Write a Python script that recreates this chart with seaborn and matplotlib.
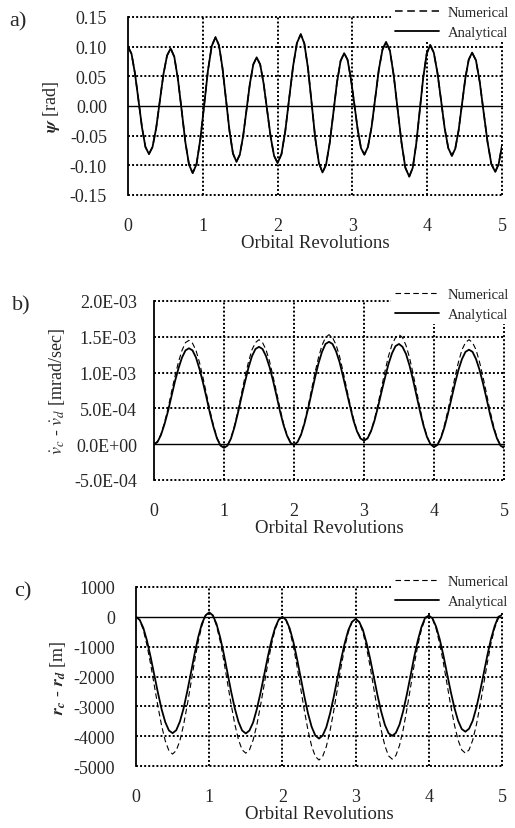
import numpy as np
import matplotlib
matplotlib.use("Agg")
import matplotlib.pyplot as plt
import seaborn as sns

# ---- data ----
# a) attitude angle psi [rad]; numerical and analytical curves coincide
rev_a = [0.00,
         0.047, 0.093, 0.14, 0.187, 0.233, 0.28,
         0.328, 0.377, 0.425, 0.473, 0.522, 0.57,
         0.619, 0.668, 0.718, 0.767, 0.816, 0.865,
         0.916, 0.967, 1.018, 1.068, 1.119, 1.17,
         1.217, 1.263, 1.31, 1.357, 1.403, 1.45,
         1.495, 1.54, 1.585, 1.63, 1.675, 1.72,
         1.767, 1.813, 1.86, 1.907, 1.953, 2.00,
         2.052, 2.103, 2.155, 2.207, 2.258, 2.31,
         2.358, 2.407, 2.455, 2.503, 2.552, 2.60,
         2.648, 2.697, 2.745, 2.793, 2.842, 2.89,
         2.935, 2.98, 3.025, 3.07, 3.115, 3.16,
         3.208, 3.257, 3.305, 3.353, 3.402, 3.45,
         3.502, 3.553, 3.605, 3.657, 3.708, 3.76,
         3.807, 3.853, 3.90, 3.947, 3.993, 4.04,
         4.088, 4.137, 4.185, 4.233, 4.282, 4.33,
         4.375, 4.42, 4.465, 4.51, 4.555, 4.60,
         4.652, 4.703, 4.755, 4.807, 4.858, 4.91,
         4.955, 5.00]
psi_num = [0.100,
           0.088, 0.055, 0.010, -0.036, -0.069, -0.081,
           -0.069, -0.037, 0.008, 0.053, 0.085, 0.097,
           0.083, 0.045, -0.008, -0.061, -0.099, -0.113,
           -0.098, -0.056, 0.001, 0.059, 0.101, 0.116,
           0.102, 0.064, 0.011, -0.042, -0.080, -0.094,
           -0.082, -0.050, -0.006, 0.038, 0.070, 0.082,
           0.070, 0.038, -0.007, -0.052, -0.084, -0.096,
           -0.081, -0.042, 0.013, 0.067, 0.106, 0.121,
           0.105, 0.063, 0.005, -0.054, -0.096, -0.112,
           -0.099, -0.062, -0.012, 0.039, 0.076, 0.089,
           0.078, 0.046, 0.004, -0.039, -0.071, -0.082,
           -0.069, -0.035, 0.013, 0.061, 0.095, 0.108,
           0.093, 0.051, -0.006, -0.062, -0.104, -0.119,
           -0.104, -0.064, -0.008, 0.048, 0.088, 0.103,
           0.090, 0.056, 0.010, -0.037, -0.071, -0.084,
           -0.072, -0.041, 0.003, 0.047, 0.078, 0.090,
           0.077, 0.040, -0.011, -0.061, -0.098, -0.111,
           -0.098, -0.067]
psi_ana = list(psi_num)

# b) and c) sampled every 0.05 orbital revolution
rev_bc = [i / 20 for i in range(101)]

# b) rate difference, in units of 1E-03 mrad/sec
vdot_num = [0.00,
            0.04, 0.14, 0.30, 0.50, 0.73, 0.95, 1.15, 1.31, 1.42, 1.45,
            1.41, 1.31, 1.14, 0.93, 0.70, 0.47, 0.26, 0.09, -0.01, -0.05,
            -0.01, 0.09, 0.26, 0.47, 0.71, 0.94, 1.15, 1.32, 1.42, 1.46,
            1.42, 1.32, 1.16, 0.95, 0.73, 0.50, 0.29, 0.13, 0.03, -0.01,
            0.03, 0.14, 0.31, 0.52, 0.76, 1.00, 1.21, 1.38, 1.49, 1.53,
            1.49, 1.39, 1.23, 1.02, 0.79, 0.56, 0.36, 0.19, 0.09, 0.05,
            0.09, 0.19, 0.35, 0.56, 0.79, 1.02, 1.23, 1.39, 1.49, 1.53,
            1.49, 1.38, 1.21, 0.99, 0.75, 0.50, 0.28, 0.11, 0.00, -0.04,
            0.00, 0.10, 0.27, 0.48, 0.71, 0.94, 1.15, 1.32, 1.42, 1.46,
            1.42, 1.32, 1.15, 0.94, 0.71, 0.47, 0.26, 0.09, -0.01, -0.05]
vdot_ana = [0.00,
            0.03, 0.13, 0.28, 0.46, 0.67, 0.88, 1.06, 1.21, 1.31, 1.34,
            1.31, 1.21, 1.05, 0.86, 0.65, 0.43, 0.24, 0.08, -0.02, -0.05,
            -0.02, 0.08, 0.24, 0.44, 0.66, 0.87, 1.07, 1.23, 1.33, 1.36,
            1.33, 1.23, 1.08, 0.89, 0.68, 0.46, 0.27, 0.12, 0.02, -0.01,
            0.03, 0.13, 0.29, 0.49, 0.71, 0.93, 1.13, 1.29, 1.40, 1.43,
            1.40, 1.30, 1.15, 0.95, 0.74, 0.53, 0.33, 0.18, 0.08, 0.05,
            0.08, 0.18, 0.33, 0.52, 0.73, 0.93, 1.12, 1.27, 1.37, 1.40,
            1.36, 1.26, 1.10, 0.90, 0.68, 0.46, 0.26, 0.10, 0.00, -0.04,
            -0.01, 0.09, 0.24, 0.43, 0.64, 0.85, 1.04, 1.19, 1.29, 1.32,
            1.29, 1.19, 1.04, 0.85, 0.64, 0.42, 0.23, 0.08, -0.02, -0.05]

# c) radial difference [m]
r_num = [0,
         -110, -440, -950, -1590, -2300, -3010, -3650, -4160, -4490, -4600,
         -4480, -4150, -3620, -2960, -2230, -1490, -830, -300, 40, 150,
         40, -300, -820, -1480, -2210, -2940, -3600, -4120, -4460, -4570,
         -4460, -4130, -3630, -2990, -2290, -1580, -940, -430, -110, 0,
         -120, -460, -990, -1660, -2400, -3140, -3810, -4340, -4680, -4800,
         -4680, -4350, -3830, -3170, -2440, -1700, -1040, -520, -180, -70,
         -180, -520, -1040, -1690, -2420, -3150, -3800, -4320, -4660, -4770,
         -4650, -4310, -3780, -3110, -2370, -1620, -950, -420, -70, 40,
         -70, -400, -910, -1550, -2270, -2980, -3620, -4130, -4460, -4570,
         -4460, -4130, -3620, -2970, -2260, -1540, -890, -380, -50, 60]
r_ana = [0,
         -100, -370, -800, -1350, -1950, -2550, -3100, -3530, -3810, -3900,
         -3800, -3510, -3070, -2500, -1880, -1250, -680, -230, 50, 150,
         50, -240, -690, -1250, -1880, -2510, -3070, -3520, -3810, -3910,
         -3810, -3540, -3100, -2560, -1960, -1350, -800, -370, -90, 0,
         -100, -390, -840, -1410, -2040, -2670, -3240, -3690, -3980, -4080,
         -3980, -3700, -3250, -2700, -2080, -1450, -900, -450, -170, -70,
         -170, -440, -880, -1420, -2030, -2640, -3180, -3620, -3900, -3990,
         -3890, -3610, -3160, -2600, -1980, -1350, -790, -340, -30, 40,
         -50, -330, -760, -1300, -1910, -2510, -3050, -3480, -3760, -3850,
         -3750, -3480, -3040, -2500, -1900, -1290, -740, -310, 0, 60]

xticks = [0, 1, 2, 3, 4, 5]
yticks_a = [0.15, 0.10, 0.05, 0.00, -0.05, -0.10, -0.15]
ylabels_a = ["0.15", "0.10", "0.05", "0.00", "-0.05", "-0.10", "-0.15"]
yticks_b = [2.0, 1.5, 1.0, 0.5, 0.0, -0.5]
ylabels_b = ["2.0E-03", "1.5E-03", "1.0E-03", "5.0E-04", "0.0E+00", "-5.0E-04"]
yticks_c = [1000, 0, -1000, -2000, -3000, -4000, -5000]
ylabels_c = ["1000", "0", "-1000", "-2000", "-3000", "-4000", "-5000"]

sns.set_style("white")
plt.rcParams["font.family"] = ["Liberation Serif", "DejaVu Serif"]
plt.rcParams["mathtext.fontset"] = "stix"
plt.rcParams["axes.unicode_minus"] = False

W, H = 515, 829
fig = plt.figure(figsize=(W / 100, H / 100), dpi=100)


def panel(box, x, y_num, y_ana, yticks, ylabels, ylabel, ylab_x, tag, tag_xy, leg_top, num_lw):
    left, top, right, bottom = box
    ax = fig.add_axes([left / W, 1 - bottom / H, (right - left) / W, (bottom - top) / H])
    sns.lineplot(x=x, y=y_ana, ax=ax, color="black", lw=1.3, label="Analytical", zorder=3)
    sns.lineplot(x=x, y=y_num, ax=ax, color="black", lw=num_lw,
                 linestyle=(0, (5, 3)), label="Numerical", zorder=4)
    ax.set_xlim(0, 5)
    ax.set_ylim(min(yticks), max(yticks))

    # Excel-like grid: dotted lines, solid zero line
    for yv in yticks:
        if yv == 0:
            ax.axhline(yv, color="black", lw=1.0, clip_on=False, zorder=2)
        else:
            ax.axhline(yv, color="black", lw=1.4, ls=(0, (1, 1.1)), clip_on=False, zorder=1)
    for xv in xticks[1:]:
        ax.axvline(xv, color="black", lw=1.4, ls=(0, (1, 1.1)), clip_on=False, zorder=1)

    for s in ["top", "right", "bottom"]:
        ax.spines[s].set_visible(False)
    ax.spines["left"].set_color("black")
    ax.spines["left"].set_linewidth(1.3)
    ax.spines["left"].set_zorder(5)

    ax.set_xticks(xticks)
    ax.set_xticklabels([str(t) for t in xticks])
    ax.set_yticks(yticks)
    ax.set_yticklabels(ylabels)
    ax.tick_params(axis="y", length=0, pad=(left - ylab_x[1]) * 0.72, labelsize=13)
    ax.tick_params(axis="x", length=0, pad=16, labelsize=13)
    ax.set_xlabel("Orbital Revolutions", fontsize=13.5, labelpad=0)
    ax.set_ylabel(ylabel, fontsize=13)
    ax.yaxis.set_label_coords((ylab_x[0] - left) / (right - left), 0.5)

    h, l = ax.get_legend_handles_labels()
    order = [l.index("Numerical"), l.index("Analytical")]
    ax.legend([h[i] for i in order], [l[i] for i in order],
              loc="upper right", bbox_to_anchor=(0.995, 1 - leg_top / H),
              bbox_transform=fig.transFigure, frameon=True, fancybox=False,
              edgecolor="none", facecolor="white", framealpha=1, fontsize=10.5,
              handlelength=3.0, handletextpad=0.6, labelspacing=0.45,
              borderpad=0.25, borderaxespad=0)
    fig.text(tag_xy[0] / W, 1 - tag_xy[1] / H, tag, fontsize=16, ha="center", va="center")
    return ax


panel((128, 18, 502, 196), rev_a, psi_num, psi_ana, yticks_a, ylabels_a,
      r"$\boldsymbol{\psi}$ [rad]", (62, 107), "a)", (18, 22), 3, 1.1)
panel((154, 302, 504, 481), rev_bc, vdot_num, vdot_ana, yticks_b, ylabels_b,
      r"$\dot{v}_c$ - $\dot{v}_d$ [mrad/sec]", (67, 137), "b)", (21, 306), 285, 0.8)
panel((136, 588, 502, 767), rev_bc, r_num, r_ana, yticks_c, ylabels_c,
      r"$\boldsymbol{r}_{\boldsymbol{c}}$ - $\boldsymbol{r}_{\boldsymbol{d}}$ [m]",
      (68, 115), "c)", (23, 592), 572, 0.8)

fig.savefig("out.png", dpi=100)
